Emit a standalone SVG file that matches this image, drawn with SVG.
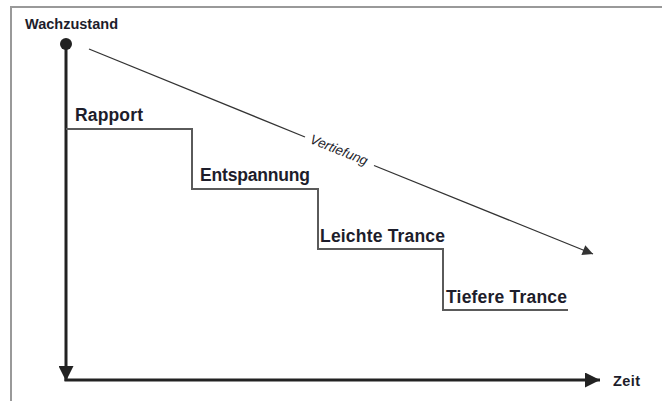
<svg xmlns="http://www.w3.org/2000/svg" width="662" height="401" viewBox="0 0 662 401">
<style>
.lbl{font-family:"Liberation Sans",Arial,sans-serif;font-weight:bold;fill:#1d1d2b}
.step{fill:none;stroke:#5a5a5a;stroke-width:2}
.axis{fill:none;stroke:#222;stroke-width:3}
</style>
<defs>
<marker id="ah" viewBox="0 0 10 10" refX="10" refY="5" markerWidth="6.5" markerHeight="5" markerUnits="strokeWidth" orient="auto"><path d="M0,0 L10,5 L0,10 z" fill="#222"/></marker>
<marker id="ahs" viewBox="0 0 10 10" refX="10" refY="5" markerWidth="11" markerHeight="8" markerUnits="strokeWidth" orient="auto"><path d="M0,0 L10,5 L0,10 z" fill="#333"/></marker>
</defs>
<rect width="662" height="401" fill="#fff"/>
<path d="M11,401 V7 H662" fill="none" stroke="#999" stroke-width="2"/>
<g id="connectors">
<line class="axis" x1="66" y1="44" x2="66" y2="381" marker-end="url(#ah)"/>
<line class="axis" x1="64.5" y1="380" x2="600" y2="380" marker-end="url(#ah)"/>
<path class="step" d="M66,129 H192 V189 H318 V249 H443 V310 H568"/>
<line x1="89" y1="49" x2="305" y2="137" stroke="#333" stroke-width="1.3"/>
<line x1="374" y1="165.5" x2="593" y2="254" stroke="#333" stroke-width="1.3" marker-end="url(#ahs)"/>
</g>
<g id="wachzustand">
<circle cx="66" cy="44" r="6" fill="#222"/>
<text class="lbl" x="25" y="29" font-size="14.5" textLength="93">Wachzustand</text>
</g>
<g id="rapport"><text class="lbl" x="75" y="121" font-size="17.5" textLength="68">Rapport</text></g>
<g id="entspannung"><text class="lbl" x="200" y="181" font-size="17.5" textLength="110">Entspannung</text></g>
<g id="leichte"><text class="lbl" x="320" y="242" font-size="17.5" textLength="125">Leichte Trance</text></g>
<g id="tiefere"><text class="lbl" x="446" y="303" font-size="17.5" textLength="121">Tiefere Trance</text></g>
<g id="zeit"><text class="lbl" x="613" y="386" font-size="14.5" textLength="27">Zeit</text></g>
<g id="vertiefung"><text x="339" y="150" font-family="Liberation Sans,Arial,sans-serif" font-style="italic" font-size="13.5" fill="#1d1d2b" text-anchor="middle" dominant-baseline="central" transform="rotate(22.1 339 150)">Vertiefung</text></g>
</svg>
